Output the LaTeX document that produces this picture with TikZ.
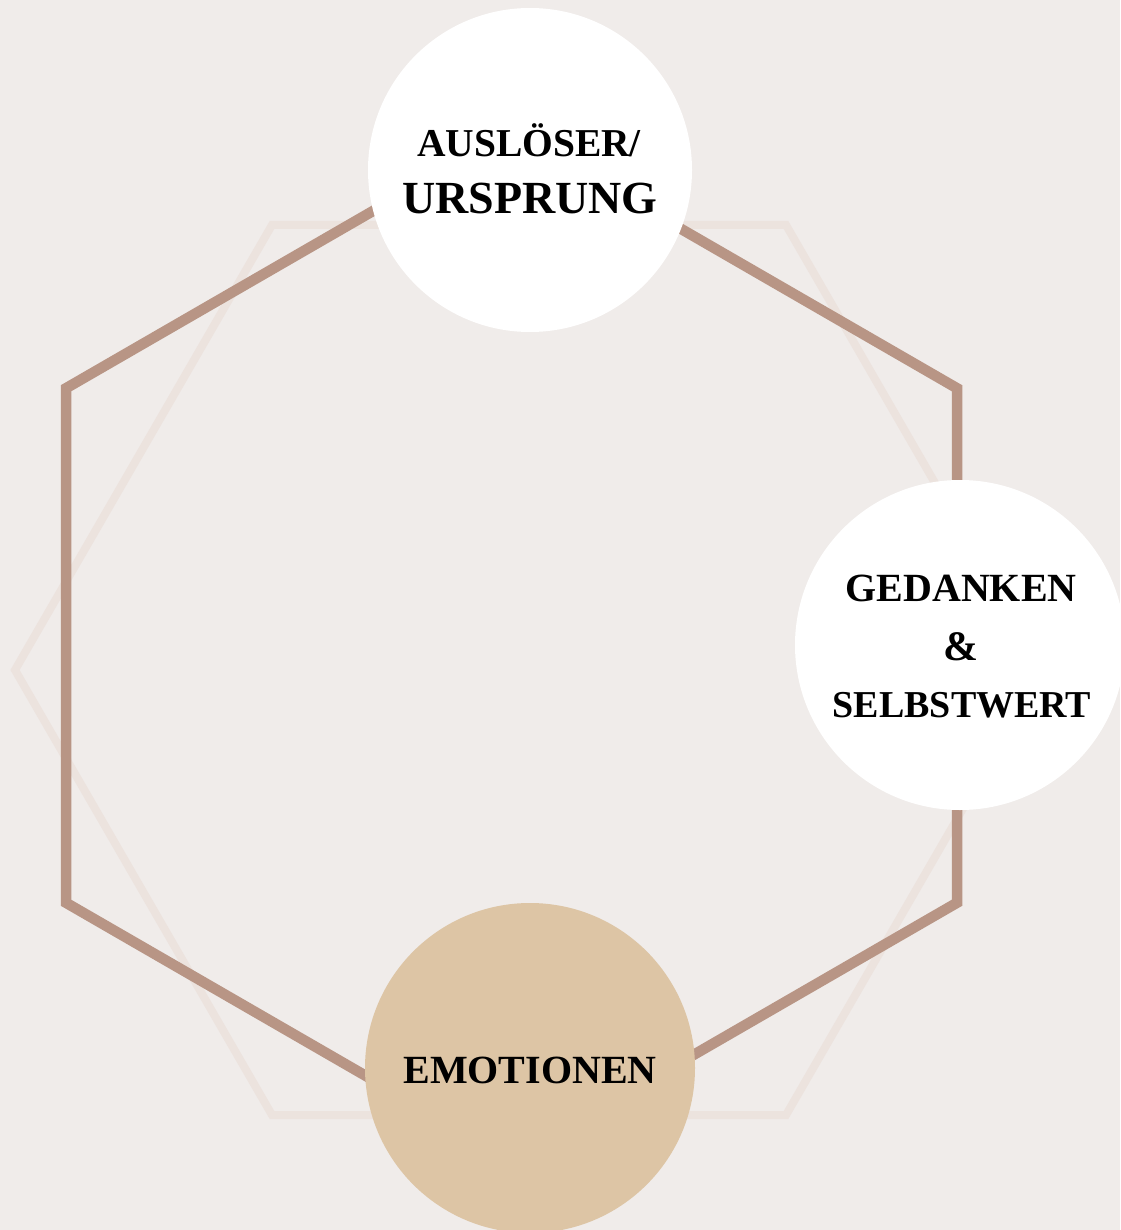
\documentclass[tikz,border=0pt]{standalone}
\usepackage{fontspec}
\setmainfont{Liberation Serif}
\definecolor{bgcol}{HTML}{F0ECEA}
\definecolor{hexbrown}{HTML}{B89585}
\definecolor{hexfaint}{HTML}{ECE3DE}
\definecolor{tancol}{HTML}{DDC5A5}
\tikzset{
  disc/.style={circle, inner sep=0pt, minimum size=#1, draw=none},
  lbl/.style={anchor=base, inner sep=0pt, text=black, font=\bfseries},
}
\newcommand{\fsz}[1]{\fontsize{#1}{#1}\selectfont}
\begin{document}
\begin{tikzpicture}[x=1pt,y=-1pt]
\fill[bgcol] (0,0) rectangle (1120,1230);
\useasboundingbox (0,0) rectangle (1120,1230);
% faint flat-top hexagon
\draw[hexfaint, line width=8pt, line join=miter]
  (15,670) -- (272,225) -- (786,225) -- (1043,670) -- (786,1115) -- (272,1115) -- cycle;
% brown pointy-top hexagon
\draw[hexbrown, line width=10.5pt, line join=miter]
  (511.5,131) -- (957,388.25) -- (957,902.75) -- (511.5,1160) -- (66,902.75) -- (66,388.25) -- cycle;
% circles
\node[disc=324pt, fill=white] (top) at (530,170) {};
\node[disc=330pt, fill=white] (right) at (960,645) {};
\node[disc=330pt, fill=tancol] (bottom) at (530,1068) {};
% labels
\node[lbl, font=\bfseries\fsz{39.5}] (t1) at (529,157) {AUSLÖSER/};
\node[lbl, font=\bfseries\fsz{46}] (t2) at (530,214) {URSPRUNG};
\node[lbl, font=\bfseries\fsz{40}] (r1) at (961,601) {GEDANKEN};
\node[lbl, font=\bfseries\fsz{42}] (r2) at (961,660) {\&};
\node[lbl, font=\bfseries\fsz{38}] (r3) at (962,717) {SELBSTWERT};
\node[lbl, font=\bfseries\fsz{40}] (b1) at (530,1083) {EMOTIONEN};
\end{tikzpicture}
\end{document}
